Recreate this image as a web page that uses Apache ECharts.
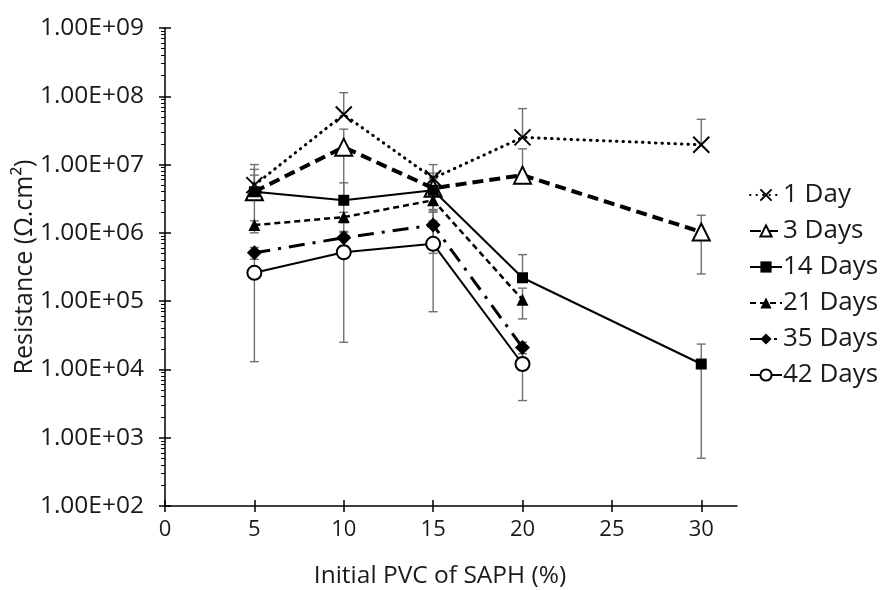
<!DOCTYPE html>
<html>
<head>
<meta charset="utf-8">
<script src="https://cdn.jsdelivr.net/npm/echarts@6/dist/echarts.min.js"></script>
<style>html,body{margin:0;padding:0;background:#fff}#c{width:880px;height:590px}</style>
</head>
<body>
<div id="c"></div>
<script>
// ---- data ----
const xValues = [5, 10, 15, 20, 30];
const xTickLabels = [0, 5, 10, 15, 20, 25, 30];
const seriesNames = ['1 Day', '3 Days', '14 Days', '21 Days', '35 Days', '42 Days'];
const day1  = [5.0e6, 5.4e7, 6.3e6, 2.5e7, 1.95e7];
const day3  = [4.0e6, 1.8e7, 4.5e6, 7.0e6, 1.03e6];
const day14 = [4.0e6, 3.0e6, 4.2e6, 2.2e5, 1.2e4];
const day21 = [1.3e6, 1.7e6, 3.0e6, 1.05e5, null];
const day35 = [5.1e5, 8.5e5, 1.3e6, 2.1e4, null];
const day42 = [2.6e5, 5.2e5, 6.9e5, 1.2e4, null];
// symmetric error magnitudes (same units)
const err1  = [5.0e6, 5.9e7, 3.7e6, 4.1e7, 2.65e7];
const err3  = [4.5e6, 1.5e7, 3.0e6, 1.0e7, 7.8e5];
const err14 = [3.0e6, 2.4e6, 2.0e6, 2.6e5, 1.15e4];
const err21 = [2.0e5, 3.0e5, 1.0e6, 5.0e4, null];
const err35 = [1.0e5, 2.0e5, 8.0e5, 4.0e3, null];
const err42 = [2.47e5, 4.95e5, 6.2e5, 8.5e3, null];
const yTickValues = [1e2, 1e3, 1e4, 1e5, 1e6, 1e7, 1e8, 1e9];
const minorTickValues = [];
for (let d = 2; d < 9; d++) for (let m = 2; m <= 9; m++) minorTickValues.push(m * Math.pow(10, d));

const values = [day1, day3, day14, day21, day35, day42];
const errors = [err1, err3, err14, err21, err35, err42];

const FONT = 'Open Sans';
const TXT = '#1a1a1a';

function pairs(arr) {
  const out = [];
  arr.forEach((v, i) => { if (v != null) out.push([xValues[i], v]); });
  return out;
}
const errData = [];
values.forEach((arr, s) => arr.forEach((v, i) => {
  if (v != null && errors[s][i] != null) errData.push([xValues[i], v, errors[s][i]]);
}));

function fmtE(v) {
  const s = Number(v).toExponential(2).toUpperCase();
  const m = s.match(/^([\d.]+)E([+-])(\d+)$/);
  if (!m) return s;
  return m[1] + 'E' + m[2] + (m[3].length < 2 ? '0' + m[3] : m[3]);
}

const styles = [
  { symbol: 'path://M0,0L10,10M10,0L0,10', symbolSize: 16, fill: 'rgba(0,0,0,0)', border: 2, line: { width: 3, type: [0.5, 6], cap: 'round' } },
  { symbol: 'triangle', symbolSize: 17, fill: '#fff', border: 2, line: { width: 4, type: [11, 6] } },
  { symbol: 'rect', symbolSize: 11, fill: '#000', border: 0, line: { width: 2, type: 'solid' } },
  { symbol: 'triangle', symbolSize: 12, fill: '#000', border: 0, line: { width: 2.5, type: [6, 4] } },
  { symbol: 'diamond', symbolSize: 15, fill: '#000', border: 0, line: { width: 3, type: [16, 8, 3, 8] } },
  { symbol: 'circle', symbolSize: 14, fill: '#fff', border: 2, line: { width: 2, type: 'solid' } }
];

const lineSeries = seriesNames.map((name, s) => ({
  name: name,
  type: 'line',
  xAxisIndex: 0, yAxisIndex: 0,
  data: pairs(values[s]),
  symbol: styles[s].symbol,
  symbolSize: styles[s].symbolSize,
  showAllSymbol: true,
  z: 5 + s,
  lineStyle: Object.assign({ color: '#000' }, styles[s].line),
  itemStyle: { color: styles[s].fill, borderColor: '#000', borderWidth: styles[s].border, opacity: 1 },
  emphasis: { disabled: true },
  animation: false
}));

const errSeries = {
  type: 'custom',
  xAxisIndex: 0, yAxisIndex: 0,
  z: 2,
  silent: true,
  animation: false,
  data: errData,
  encode: { x: 0, y: 1 },
  renderItem: function (params, api) {
    const x = api.value(0), v = api.value(1), e = api.value(2);
    const top = api.coord([x, v + e]);
    const mid = api.coord([x, v]);
    const hasLow = v - e > 0;
    const low = hasLow ? api.coord([x, v - e]) : mid;
    const cw = 4.5;
    const st = { stroke: '#707070', lineWidth: 1.4 };
    const ch = [
      { type: 'line', shape: { x1: top[0], y1: top[1], x2: low[0], y2: low[1] }, style: st },
      { type: 'line', shape: { x1: top[0] - cw, y1: top[1], x2: top[0] + cw, y2: top[1] }, style: st }
    ];
    if (hasLow) ch.push({ type: 'line', shape: { x1: low[0] - cw, y1: low[1], x2: low[0] + cw, y2: low[1] }, style: st });
    return { type: 'group', children: ch };
  }
};

const chart = echarts.init(document.getElementById('c'), null, { renderer: 'canvas' });
chart.setOption({
  backgroundColor: '#fff',
  animation: false,
  textStyle: { fontFamily: FONT },
  grid: { left: 165, right: 143, top: 28, bottom: 84, containLabel: false, outerBoundsMode: 'none' },
  legend: {
    orient: 'vertical',
    left: 744, top: 177,
    itemWidth: 32, itemHeight: 14, itemGap: 10,
    data: seriesNames,
    textStyle: { fontFamily: FONT, fontSize: 26, color: TXT, lineHeight: 26, padding: [0, 0, 0, -4] },
    selectedMode: false
  },
  xAxis: [
    {
      type: 'value', min: 0, max: 32, position: 'bottom',
      name: 'Initial PVC of SAPH (%)', nameLocation: 'middle', nameGap: 58, nameMoveOverlap: false,
      nameTextStyle: { fontFamily: FONT, fontSize: 24.5, color: TXT, padding: [0, 22, 0, 0] },
      axisLine: { onZero: false, lineStyle: { color: '#000', width: 1.5 } },
      axisTick: { show: true, inside: false, length: 6, customValues: xTickLabels, lineStyle: { color: '#000', width: 1.5 } },
      axisLabel: { customValues: xTickLabels, fontFamily: FONT, fontSize: 22, color: TXT, margin: 13 },
      splitLine: { show: false }
    },
    {
      type: 'value', min: 0, max: 32, position: 'bottom',
      axisLine: { show: false },
      axisTick: { show: true, inside: true, length: 6, customValues: xTickLabels, lineStyle: { color: '#000', width: 1.5 } },
      axisLabel: { show: false },
      splitLine: { show: false }
    }
  ],
  yAxis: [
    {
      type: 'log', logBase: 10, min: 1e2, max: 1e9, splitNumber: 7, position: 'left',
      name: 'Resistance (Ω.cm²)', nameLocation: 'middle', nameGap: 128, nameRotate: 90, nameMoveOverlap: false,
      nameTextStyle: { fontFamily: FONT, fontSize: 25, color: TXT },
      axisLine: { onZero: false, lineStyle: { color: '#000', width: 1.5 } },
      axisTick: { show: true, inside: false, length: 6, lineStyle: { color: '#000', width: 1.5 } },
      axisLabel: { fontFamily: FONT, fontSize: 24.5, color: TXT, margin: 21, formatter: fmtE },
      splitLine: { show: false }
    },
    {
      type: 'log', logBase: 10, min: 1e2, max: 1e9, splitNumber: 7, position: 'left',
      axisLine: { show: false },
      axisTick: { show: true, inside: true, length: 6, lineStyle: { color: '#000', width: 1.5 } },
      axisLabel: { show: false },
      splitLine: { show: false }
    },
    {
      type: 'value', min: 2, max: 9, position: 'left',
      axisLine: { show: false },
      axisTick: { show: true, inside: false, length: 4, customValues: minorTickValues.map(v => Math.log10(v)), lineStyle: { color: '#000', width: 1 } },
      axisLabel: { show: false },
      splitLine: { show: false }
    }
  ],
  series: [errSeries].concat(lineSeries)
});
</script>
</body>
</html>
